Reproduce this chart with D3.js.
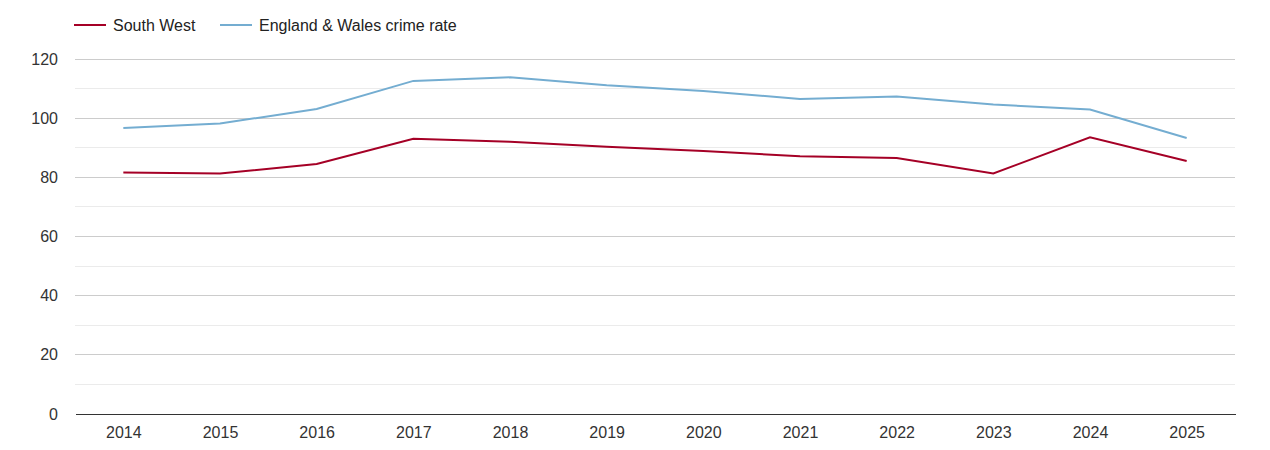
<!DOCTYPE html>
<html><head><meta charset="utf-8">
<script src="https://cdn.jsdelivr.net/npm/d3@7"></script>
<style>body{margin:0;background:#fff;font-family:"Liberation Sans",Arial,sans-serif;}</style>
</head><body><svg id="c" width="1270" height="450"></svg>
<script>
const years = ["2014","2015","2016","2017","2018","2019","2020","2021","2022","2023","2024","2025"];
const southWest = [81.6,81.3,84.5,93.0,92.0,90.3,88.9,87.1,86.5,81.3,93.5,85.5];
const englandWales = [96.7,98.2,103.1,112.6,113.8,111.1,109.2,106.5,107.3,104.6,102.9,93.3];
const yTicks = [0,20,40,60,80,100,120];
const seriesNames = ["South West","England & Wales crime rate"];
const colors = ["#a50026","#74add1"];

(function(){
const svg = d3.select("#c");
const mLeft=75, mRight=1235, mTop=59, mBottom=414;
const x = d3.scalePoint().domain(years).range([mLeft,mRight]).padding(0.5);
const y = d3.scaleLinear().domain([0,120]).range([mBottom,mTop]);

// minor grid
svg.append("g").selectAll("line").data(d3.range(10,120,20)).join("line")
  .attr("x1",mLeft).attr("x2",mRight).attr("y1",d=>y(d)).attr("y2",d=>y(d))
  .attr("stroke","#ebebeb").attr("stroke-width",1).attr("shape-rendering","crispEdges");
// major grid
svg.append("g").selectAll("line").data(yTicks.filter(d=>d>0)).join("line")
  .attr("x1",mLeft).attr("x2",mRight).attr("y1",d=>y(d)).attr("y2",d=>y(d))
  .attr("stroke","#cccccc").attr("stroke-width",1).attr("shape-rendering","crispEdges");

const yAxis = svg.append("g").attr("transform",`translate(${mLeft},0)`)
  .call(d3.axisLeft(y).tickValues(yTicks).tickSize(0).tickPadding(17));
yAxis.select(".domain").remove();
yAxis.selectAll("text").attr("font-size",16).attr("fill","#333").attr("font-family","Liberation Sans, Arial, sans-serif");

const xAxis = svg.append("g").attr("transform",`translate(0,${mBottom})`)
  .call(d3.axisBottom(x).tickSize(0).tickPadding(13));
xAxis.select(".domain").attr("stroke","#333").attr("shape-rendering","crispEdges");
xAxis.selectAll("text").attr("font-size",16).attr("fill","#333").attr("font-family","Liberation Sans, Arial, sans-serif");

const line = d3.line().x((d,i)=>x(years[i])).y(d=>y(d));
[englandWales, southWest].forEach((s,k)=>{
  svg.append("path").datum(s).attr("d",line).attr("fill","none")
    .attr("stroke", k===0?colors[1]:colors[0]).attr("stroke-width",2);
});

// legend
const leg = [{n:seriesNames[0],c:colors[0],x:74},{n:seriesNames[1],c:colors[1],x:220}];
leg.forEach(l=>{
  svg.append("line").attr("x1",l.x).attr("x2",l.x+32).attr("y1",25).attr("y2",25)
    .attr("stroke",l.c).attr("stroke-width",2);
  svg.append("text").attr("x",l.x+39).attr("y",31).text(l.n)
    .attr("font-size",16).attr("fill","#222");
});
})();
</script></body></html>
